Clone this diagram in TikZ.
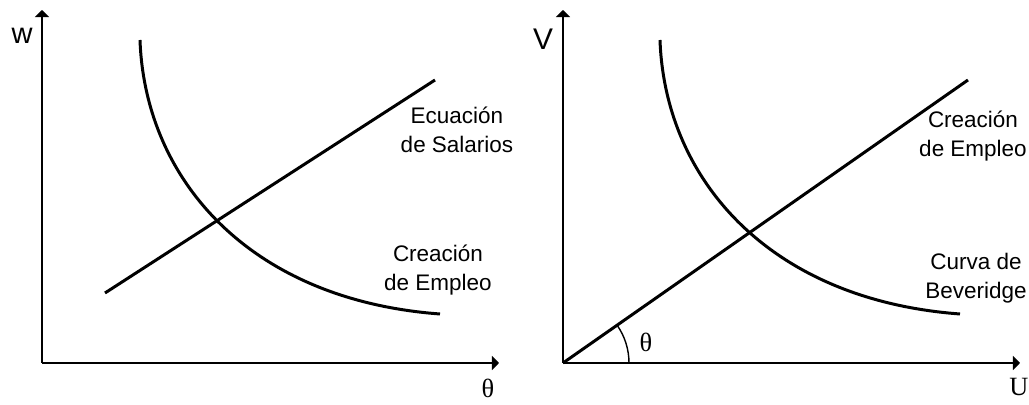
\documentclass[tikz,border=0pt]{standalone}
\usepackage{fontspec}
\setmainfont{Liberation Sans}
\newfontfamily\timesrm{Liberation Serif}
\usetikzlibrary{arrows.meta}

\begin{document}
\begin{tikzpicture}[x=0.02cm,y=0.02cm,
  axis/.style={line width=1.1pt,-{Triangle[length=4pt,width=8pt]}},
  curve/.style={line width=1.7pt},
  lab/.style={font=\fontsize{12.8}{16.4}\selectfont,align=center,inner sep=0pt},
  axlab/.style={font=\fontsize{16.5}{18}\selectfont,inner sep=0pt},
  serlab/.style={font=\timesrm\fontsize{15}{17}\selectfont,inner sep=0pt}]
\useasboundingbox (0,0) rectangle (1029,405);
% left panel: wages vs theta
\coordinate (o1) at (42,42);
\coordinate (ytop1) at (42,395);
\coordinate (xend1) at (499,42);
\draw[axis] (o1) -- (ytop1);
\draw[axis] (o1) -- (xend1);
\node[axlab] (w) at (22,369) {w};
\node[serlab] (th1) at (488,17) {θ};
\coordinate (ws0) at (105,112);
\coordinate (ws1) at (435,325);
\draw[curve] (ws0) -- (ws1);
\coordinate (ce0) at (140,365);
\coordinate (ce1) at (440,91);
\draw[curve] (ce0) .. controls (145,225) and (250,105) .. (ce1);
\node[lab] (ecsal) at (457,275) {Ecuación\\de Salarios};
\node[lab] (crem1) at (438,135) {Creación\\de Empleo};
% right panel: vacancies vs unemployment
\coordinate (o2) at (563,42);
\coordinate (ytop2) at (563,395);
\coordinate (xend2) at (1020,42);
\draw[axis] (o2) -- (ytop2);
\draw[axis] (o2) -- (xend2);
\node[font=\fontsize{17}{19}\selectfont,inner sep=0pt] (V) at (543,366) {V};
\node[serlab] (U) at (1019,18) {U};
\coordinate (cr1) at (968,325);
\draw[curve] (o2) -- (cr1);
\coordinate (bv0) at (660,365);
\coordinate (bv1) at (960,91);
\draw[curve] (bv0) .. controls (665,225) and (770,105) .. (bv1);
\draw[line width=0.8pt] (o2) ++(66,0) arc[start angle=0,end angle=35,radius=66];
\node[serlab] (th2) at (646,63) {θ};
\node[lab] (crem2) at (973,269) {Creación\\de Empleo};
\node[lab] (bev) at (976,127) {Curva de\\Beveridge};
\end{tikzpicture}
\end{document}
